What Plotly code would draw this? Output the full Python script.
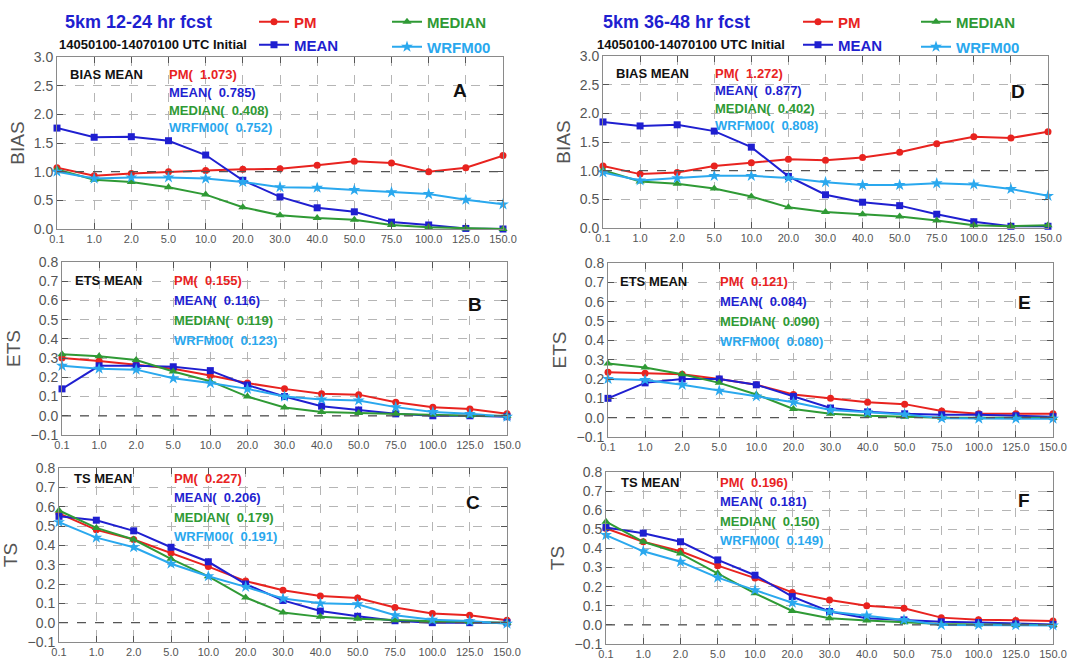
import plotly.graph_objects as go

# ---------------- data ----------------
thresholds = ["0.1", "1.0", "2.0", "5.0", "10.0", "20.0", "30.0", "40.0",
              "50.0", "75.0", "100.0", "125.0", "150.0"]
series_names = ["PM", "MEAN", "MEDIAN", "WRFM00"]

# Panel A: BIAS, 12-24 hr
bias_a_pm = [1.07, 0.93, 0.97, 1.00, 1.02, 1.04, 1.05, 1.11, 1.18, 1.15, 1.00, 1.07, 1.28]
bias_a_mean = [1.76, 1.60, 1.61, 1.54, 1.29, 0.85, 0.56, 0.37, 0.30, 0.12, 0.07, 0.01, 0.00]
bias_a_median = [1.04, 0.86, 0.82, 0.73, 0.60, 0.38, 0.24, 0.19, 0.16, 0.07, 0.03, 0.01, 0.00]
bias_a_wrfm00 = [1.00, 0.88, 0.90, 0.90, 0.88, 0.82, 0.73, 0.72, 0.68, 0.64, 0.61, 0.51, 0.43]
stats_a = ["1.073", "0.785", "0.408", "0.752"]

# Panel D: BIAS, 36-48 hr
bias_d_pm = [1.08, 0.94, 0.97, 1.08, 1.14, 1.20, 1.18, 1.23, 1.32, 1.47, 1.59, 1.57, 1.68]
bias_d_mean = [1.85, 1.78, 1.80, 1.69, 1.41, 0.90, 0.58, 0.45, 0.39, 0.24, 0.11, 0.03, 0.03]
bias_d_median = [1.01, 0.81, 0.77, 0.69, 0.55, 0.36, 0.28, 0.24, 0.20, 0.13, 0.05, 0.03, 0.05]
bias_d_wrfm00 = [0.97, 0.83, 0.87, 0.91, 0.91, 0.87, 0.80, 0.75, 0.75, 0.78, 0.76, 0.68, 0.56]
stats_d = ["1.272", "0.877", "0.402", "0.808"]

# Panel B: ETS, 12-24 hr
ets_b_pm = [0.300, 0.285, 0.265, 0.245, 0.210, 0.170, 0.140, 0.115, 0.110, 0.070, 0.045, 0.035, 0.010]
ets_b_mean = [0.140, 0.260, 0.260, 0.255, 0.235, 0.160, 0.100, 0.050, 0.030, 0.010, 0.000, 0.000, -0.005]
ets_b_median = [0.320, 0.310, 0.290, 0.230, 0.180, 0.100, 0.043, 0.020, 0.015, 0.010, 0.005, 0.000, 0.000]
ets_b_wrfm00 = [0.260, 0.245, 0.240, 0.195, 0.170, 0.140, 0.100, 0.085, 0.080, 0.045, 0.020, 0.010, -0.005]
stats_b = ["0.155", "0.116", "0.119", "0.123"]

# Panel E: ETS, 36-48 hr
ets_e_pm = [0.235, 0.230, 0.225, 0.200, 0.170, 0.120, 0.100, 0.080, 0.070, 0.035, 0.020, 0.020, 0.020]
ets_e_mean = [0.100, 0.180, 0.200, 0.200, 0.170, 0.110, 0.050, 0.030, 0.020, 0.015, 0.015, 0.010, 0.005]
ets_e_median = [0.280, 0.260, 0.225, 0.180, 0.120, 0.045, 0.020, 0.010, 0.005, 0.000, 0.000, 0.000, 0.000]
ets_e_wrfm00 = [0.200, 0.195, 0.170, 0.140, 0.110, 0.080, 0.040, 0.028, 0.017, -0.003, -0.005, -0.005, -0.005]
stats_e = ["0.121", "0.084", "0.090", "0.080"]

# Panel C: TS, 12-24 hr
ts_c_pm = [0.565, 0.480, 0.430, 0.360, 0.290, 0.215, 0.168, 0.138, 0.128, 0.078, 0.047, 0.038, 0.012]
ts_c_mean = [0.550, 0.530, 0.475, 0.390, 0.315, 0.200, 0.115, 0.060, 0.033, 0.010, 0.000, 0.000, 0.000]
ts_c_median = [0.580, 0.490, 0.430, 0.330, 0.240, 0.130, 0.052, 0.030, 0.020, 0.012, 0.007, 0.003, 0.000]
ts_c_wrfm00 = [0.520, 0.440, 0.390, 0.305, 0.240, 0.185, 0.125, 0.100, 0.095, 0.038, 0.015, 0.008, -0.005]
stats_c = ["0.227", "0.206", "0.179", "0.191"]

# Panel F: TS, 36-48 hr
ts_f_pm = [0.505, 0.435, 0.385, 0.310, 0.245, 0.170, 0.130, 0.100, 0.087, 0.038, 0.027, 0.023, 0.021]
ts_f_mean = [0.510, 0.480, 0.435, 0.340, 0.260, 0.148, 0.070, 0.035, 0.026, 0.016, 0.012, 0.005, 0.002]
ts_f_median = [0.540, 0.435, 0.373, 0.270, 0.165, 0.073, 0.035, 0.023, 0.014, 0.005, 0.002, 0.000, 0.000]
ts_f_wrfm00 = [0.470, 0.385, 0.330, 0.247, 0.182, 0.116, 0.070, 0.049, 0.026, 0.000, 0.000, -0.002, -0.003]
stats_f = ["0.196", "0.181", "0.150", "0.149"]

# ---------------- styling ----------------
W, H = 1092, 664
COLORS = {"PM": "#e8231f", "MEAN": "#1f1fd0", "MEDIAN": "#2f9a35", "WRFM00": "#2aa8ee"}
SYMBOLS = {"PM": "circle", "MEAN": "square", "MEDIAN": "triangle-up", "WRFM00": "star"}
MSIZE = {"PM": 7, "MEAN": 7, "MEDIAN": 8, "WRFM00": 9}
FONT = "Liberation Sans, Arial, sans-serif"
NB = "\u00a0"


def px(x):
    return x / W


def py(y):
    return 1 - y / H


panels = [
    dict(letter="A", metric="BIAS", xpx=(57, 503), ypx=(57, 229),
         data=[bias_a_pm, bias_a_mean, bias_a_median, bias_a_wrfm00], stats=stats_a,
         ref=1.0, yr=[0, 3], dt=0.5, lab=(68, 75, 167, 17.5), let=(460, 90), leg=0),
    dict(letter="D", metric="BIAS", xpx=(603, 1048), ypx=(56, 228),
         data=[bias_d_pm, bias_d_mean, bias_d_median, bias_d_wrfm00], stats=stats_d,
         ref=1.0, yr=[0, 3], dt=0.5, lab=(614, 73, 713, 17.5), let=(1018, 92), leg=4),
    dict(letter="B", metric="ETS", xpx=(62, 507), ypx=(262, 435),
         data=[ets_b_pm, ets_b_mean, ets_b_median, ets_b_wrfm00], stats=stats_b,
         ref=0.0, yr=[-0.1, 0.8], dt=0.1, lab=(73, 281, 172, 19.7), let=(475, 305), leg=None),
    dict(letter="E", metric="ETS", xpx=(608, 1053), ypx=(263, 437),
         data=[ets_e_pm, ets_e_mean, ets_e_median, ets_e_wrfm00], stats=stats_e,
         ref=0.0, yr=[-0.1, 0.8], dt=0.1, lab=(618, 282, 718, 19.7), let=(1024, 302), leg=None),
    dict(letter="C", metric="TS", xpx=(59, 507), ypx=(468, 642),
         data=[ts_c_pm, ts_c_mean, ts_c_median, ts_c_wrfm00], stats=stats_c,
         ref=0.0, yr=[-0.1, 0.8], dt=0.1, lab=(72, 478, 172, 19.5), let=(473, 502), leg=None),
    dict(letter="F", metric="TS", xpx=(606, 1053), ypx=(472, 644),
         data=[ts_f_pm, ts_f_mean, ts_f_median, ts_f_wrfm00], stats=stats_f,
         ref=0.0, yr=[-0.1, 0.8], dt=0.1, lab=(619, 482, 718, 19.5), let=(1024, 500), leg=None),
]

xpos = list(range(len(thresholds)))

fig = go.Figure()
annotations = []
shapes = []
layout_axes = {}

legend_names = ["legend"] + ["legend%d" % i for i in range(2, 9)]

for i, p in enumerate(panels):
    n = i + 1
    xa = "x" if n == 1 else "x%d" % n
    ya = "y" if n == 1 else "y%d" % n
    xkey = "xaxis" if n == 1 else "xaxis%d" % n
    ykey = "yaxis" if n == 1 else "yaxis%d" % n
    for j, name in enumerate(series_names):
        show = p["leg"] is not None
        kw = {}
        if show:
            kw["legend"] = legend_names[p["leg"] + j]
        fig.add_trace(go.Scatter(
            x=xpos, y=p["data"][j], mode="lines+markers", name=name,
            line=dict(color=COLORS[name], width=2),
            marker=dict(symbol=SYMBOLS[name], size=MSIZE[name], color=COLORS[name]),
            xaxis=xa, yaxis=ya, showlegend=show, cliponaxis=False, **kw))
    layout_axes[xkey] = dict(
        domain=[px(p["xpx"][0]), px(p["xpx"][1])], anchor=ya, range=[0, len(thresholds) - 1],
        tickmode="array", tickvals=xpos, ticktext=thresholds, automargin=False,
        showgrid=True, gridcolor="#b5b5b5", griddash="dash", gridwidth=1,
        showline=True, linecolor="#8a8a8a", linewidth=1, mirror="ticks",
        ticks="inside", ticklen=6, tickcolor="#555555", zeroline=False,
        tickfont=dict(size=11, color="#555555", family=FONT),
    )
    ticks = []
    v = p["yr"][0]
    while v <= p["yr"][1] + 1e-9:
        ticks.append(round(v, 2))
        v += p["dt"]
    layout_axes[ykey] = dict(
        domain=[py(p["ypx"][1]), py(p["ypx"][0])], anchor=xa, range=p["yr"],
        tickmode="array", tickvals=ticks, tickformat=".1f", automargin=False,
        showgrid=True, gridcolor="#b5b5b5", griddash="dash", gridwidth=1,
        showline=True, linecolor="#8a8a8a", linewidth=1, mirror="ticks",
        ticks="inside", ticklen=6, tickcolor="#555555", zeroline=False,
        tickfont=dict(size=14, color="#555555", family=FONT),
        title=dict(text=p["metric"], font=dict(size=19, color="#555555", family=FONT), standoff=4),
    )
    # reference line
    shapes.append(dict(type="line", xref="%s domain" % xa, yref=ya, x0=0, x1=1,
                       y0=p["ref"], y1=p["ref"], line=dict(color="#555555", width=1.3, dash="dash")))
    # in-panel labels
    lx, ly, sx, dy = p["lab"]
    annotations.append(dict(xref="paper", yref="paper", x=px(lx), y=py(ly), xanchor="left",
                            yanchor="middle", showarrow=False, text=p["metric"] + NB + "MEAN",
                            font=dict(size=13, color="#111111", family=FONT, weight="bold")))
    for j, name in enumerate(series_names):
        annotations.append(dict(xref="paper", yref="paper", x=px(sx), y=py(ly + j * dy),
                                xanchor="left", yanchor="middle", showarrow=False,
                                text="%s(%s%s)" % (name, NB + NB, p["stats"][j]),
                                font=dict(size=13, color=COLORS[name], family=FONT, weight="bold")))
    annotations.append(dict(xref="paper", yref="paper", x=px(p["let"][0]), y=py(p["let"][1]),
                            xanchor="center", yanchor="middle", showarrow=False, text=p["letter"],
                            font=dict(size=19, color="#111111", family=FONT, weight="bold")))

# headers
headers = [("5km 12-24 hr fcst", 63), ("5km 36-48 hr fcst", 601)]
for txt, hx in headers:
    annotations.append(dict(xref="paper", yref="paper", x=px(hx), y=py(22), xanchor="left",
                            yanchor="middle", showarrow=False, text=txt,
                            font=dict(size=18, color="#1f1fd0", family=FONT, weight="bold")))
    annotations.append(dict(xref="paper", yref="paper", x=px(hx - 6), y=py(45), xanchor="left",
                            yanchor="middle", showarrow=False, text="14050100-14070100 UTC Initial",
                            font=dict(size=13, color="#111111", family=FONT, weight="bold")))

# legends (one per entry, positioned like the reference)
legend_pos = [(254, 22), (254, 45), (387, 22), (387, 47),
              (798, 22), (798, 45), (916, 22), (916, 47)]
legend_layout = {}
for k, (lname, (lx, ly)) in enumerate(zip(legend_names, legend_pos)):
    name = series_names[k % 4]
    legend_layout[lname] = dict(
        x=px(lx), y=py(ly), xanchor="left", yanchor="middle", bgcolor="rgba(0,0,0,0)",
        borderwidth=0, itemwidth=30, tracegroupgap=0,
        font=dict(size=15, color=COLORS[name], family=FONT, weight="bold"))

fig.update_layout(
    width=W, height=H, margin=dict(l=0, r=0, t=0, b=0, autoexpand=False),
    paper_bgcolor="white", plot_bgcolor="white",
    annotations=annotations, shapes=shapes, **layout_axes, **legend_layout,
)

fig.write_html("out.html", config={"displayModeBar": False},
               post_script="document.body.style.margin='0';document.body.style.overflow='hidden';")
